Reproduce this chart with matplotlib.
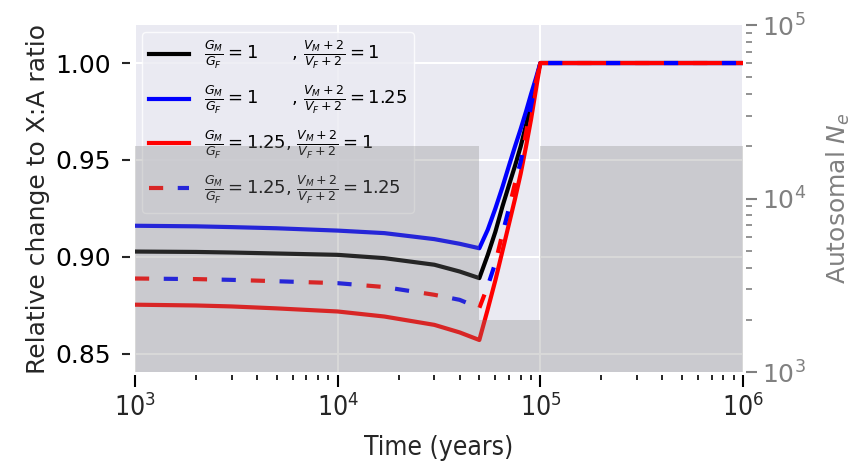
import numpy as np
import matplotlib
matplotlib.use("Agg")
import matplotlib.pyplot as plt
from matplotlib.legend_handler import HandlerTuple

# time points (years)
t = [1e3, 2e3, 3e3, 5e3, 1e4, 1.7e4, 3e4, 4e4, 5e4, 5.5e4, 6e4, 6.5e4,
     7e4, 7.5e4, 8e4, 8.5e4, 9e4, 9.5e4, 1e5, 1e6]

# relative change to X:A ratio
ratio_black = [0.9028, 0.9026, 0.9023, 0.9018, 0.9011, 0.8994, 0.8960, 0.8925, 0.8891,
               0.901, 0.913, 0.926, 0.937, 0.947, 0.957, 0.968, 0.979, 0.990, 1.0, 1.0]
ratio_blue = [0.9161, 0.9158, 0.9154, 0.9148, 0.9136, 0.9123, 0.9092, 0.9068, 0.9045,
              0.914, 0.925, 0.936, 0.947, 0.957, 0.966, 0.975, 0.984, 0.992, 1.0, 1.0]
ratio_red = [0.8754, 0.8750, 0.8745, 0.8735, 0.8719, 0.8693, 0.8650, 0.8611, 0.8572,
             0.873, 0.888, 0.903, 0.917, 0.930, 0.943, 0.957, 0.971, 0.986, 1.0, 1.0]
ratio_both = [0.8889, 0.8886, 0.8882, 0.8875, 0.8865, 0.8845, 0.8805, 0.8779, 0.8737,
              0.885, 0.897, 0.912, 0.925, 0.938, 0.949, 0.964, 0.978, 0.990, 1.0, 1.0]

# autosomal Ne history (step function)
t_ne = [1e3, 5e4, 1e5, 1e6]
ne = [2e4, 2e3, 2e4, 2e4]

labels = [r'$\frac{G_M}{G_F} = 1$      , $\frac{V_M + 2}{V_F + 2} = 1$',
          r'$\frac{G_M}{G_F} = 1$      , $\frac{V_M + 2}{V_F + 2} = 1.25$',
          r'$\frac{G_M}{G_F} = 1.25$, $\frac{V_M + 2}{V_F + 2} = 1$',
          r'$\frac{G_M}{G_F} = 1.25$, $\frac{V_M + 2}{V_F + 2} = 1.25$']

bg = '#EAEAF2'
dark = '#262626'
grey = '#808080'

fig = plt.figure(figsize=(8.54, 4.63), dpi=100)
ax1 = fig.add_axes([135/854, 1-372/463, (743-135)/854, (372-25)/463])
ax1.set_facecolor(bg)
ax1.set_axisbelow(True)
ax1.grid(True, which='major', color='white', lw=1.5)

lw = 3
dash = (3.4, 10.5)
l1, = ax1.plot(t, ratio_black, color='black', lw=lw)
l2, = ax1.plot(t, ratio_blue, color='blue', lw=lw)
l3, = ax1.plot(t, ratio_red, color='red', lw=lw)
l4a, = ax1.plot(t, ratio_both, color='red', lw=lw, linestyle=(0, dash))
l4b, = ax1.plot(t, ratio_both, color='blue', lw=lw, linestyle=(7, dash))

ax1.set_xscale('log')
ax1.set_xlim(1e3, 1e6)
ax1.set_ylim(0.8407, 1.0196)
ax1.set_yticks([0.85, 0.90, 0.95, 1.00])
ax1.set_yticklabels(['0.85', '0.90', '0.95', '1.00'])
for s in ax1.spines.values():
    s.set_visible(False)
ax1.spines['bottom'].set_position(('outward', 2.2))
ax1.spines['left'].set_position(('outward', 3.6))
ax1.tick_params(axis='x', which='major', direction='out', length=8.6, width=1.5,
                color='black', labelsize=19, labelcolor=dark, pad=5)
ax1.tick_params(axis='x', which='minor', direction='out', length=3.6, width=1.2,
                color='black')
ax1.tick_params(axis='y', which='major', direction='out', length=5.8, width=1.5,
                color=dark, labelsize=18, labelcolor='black', pad=8)
for lab in ax1.get_xticklabels():
    lab.set_fontstretch('condensed')
ax1.set_xlabel('Time (years)', fontsize=19, color=dark, labelpad=9,
               fontstretch='condensed')
ax1.set_ylabel('Relative change to X:A ratio', fontsize=18, color=dark, labelpad=4)

leg = ax1.legend([l1, l2, l3, (l4a, l4b)], labels,
                 handler_map={tuple: HandlerTuple(ndivide=1)},
                 loc='upper left', fontsize=13, frameon=True, framealpha=0.8,
                 facecolor=bg, edgecolor='white', handlelength=2.2,
                 labelspacing=0.7, borderaxespad=0.4)

ax2 = ax1.twinx()
ax2.set_yscale('log')
ax2.set_ylim(1e3, 1e5)
ax2.fill_between(t_ne, ne, 1e3, step='post', color='grey', alpha=0.3, lw=0)
ax2.grid(False)
for s in ax2.spines.values():
    s.set_visible(False)
ax2.spines['right'].set_position(('outward', 1.8))
ax2.tick_params(axis='y', which='major', direction='out', length=8, width=1.5,
                color=grey, labelsize=18, labelcolor=grey, pad=4)
ax2.tick_params(axis='y', which='minor', direction='out', length=4.3, width=1.2,
                color=grey)
ax2.set_ylabel(r'Autosomal $N_e$', fontsize=18, color=grey, labelpad=13)

fig.savefig('out.png', dpi=100)
